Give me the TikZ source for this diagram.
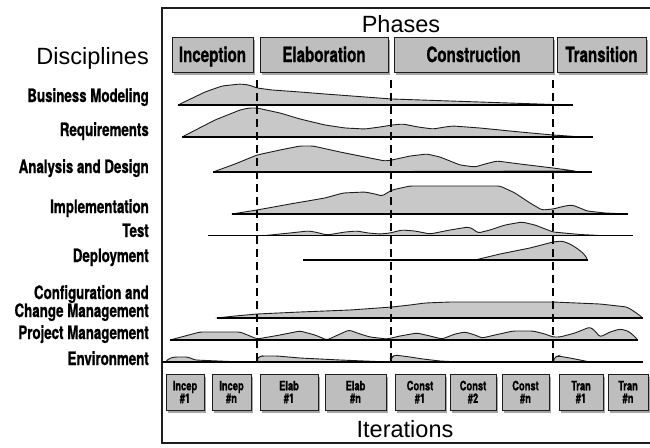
\documentclass[tikz,border=0pt]{standalone}
\usepackage{fontspec}
\setmainfont{Liberation Sans}
\newfontfamily\condfont[FakeStretch=0.72, FakeBold=0.8]{TeX Gyre Heros}
\usetikzlibrary{shadows}

\definecolor{humpgray}{RGB}{200,200,200}
\definecolor{boxgray}{RGB}{190,190,190}
\definecolor{inkdark}{RGB}{30,30,30}

\tikzset{
  framestyle/.style={draw=inkdark, line width=1.2pt},
  phasebox/.style={draw=inkdark, line width=0.9pt, fill=boxgray, inner sep=0pt,
    minimum height=35pt, text height=15pt, text depth=0pt,
    font=\condfont\bfseries\fontsize{21}{24}\selectfont,
    drop shadow={shadow xshift=2pt, shadow yshift=-2.5pt, fill=black, opacity=0.35}},
  iterbox/.style={draw=inkdark, line width=0.9pt, fill=boxgray, inner sep=0pt,
    minimum height=36pt, align=center,
    font=\condfont\bfseries\fontsize{13}{12.5}\selectfont,
    drop shadow={shadow xshift=2pt, shadow yshift=-2.5pt, fill=black, opacity=0.35}},
  disc/.style={anchor=base east, inner sep=0pt,
    font=\condfont\bfseries\fontsize{18.5}{18}\selectfont},
  heading/.style={anchor=base, inner sep=0pt, font=\fontsize{23.5}{26}\selectfont},
  hump/.style={fill=humpgray, draw=inkdark, line width=0.9pt, rounded corners=2.5pt},
  humpbase/.style={draw=black, line width=1.3pt},
  milestone/.style={draw=black, line width=1.1pt, dash pattern=on 8pt off 5pt},
}

\begin{document}
\begin{tikzpicture}[x=1pt, y=-1pt]
\useasboundingbox (0,0) rectangle (650,447);
\fill[white] (0,0) rectangle (650,447);

% outer frame
\draw[framestyle] (650,8) -- (162,8) -- (162,443) -- (650,443);

% headings
\node[heading] (phases) at (401,32) {Phases};
\node[heading, anchor=base east] (disciplines) at (149,64) {Disciplines};
\node[heading] (iterations) at (405,437) {Iterations};

% phase boxes
\node[phasebox, minimum width=81pt]  (inception)    at (212.5,54.5) {Inception};
\node[phasebox, minimum width=128pt] (elaboration)  at (324,54.5)   {Elaboration};
\node[phasebox, minimum width=159pt] (construction) at (473.5,54.5) {Construction};
\node[phasebox, minimum width=89pt]  (transition)   at (601.5,54.5) {Transition};

% discipline labels
\node[disc] (lbm)   at (149,102) {Business Modeling};
\node[disc] (lreq)  at (149,136) {Requirements};
\node[disc] (lad)   at (149,173) {Analysis and Design};
\node[disc] (limp)  at (149,213) {Implementation};
\node[disc] (ltest) at (149,237) {Test};
\node[disc] (ldep)  at (149,262) {Deployment};
\node[disc] (lccma) at (149,299) {Configuration and};
\node[disc] (lccmb) at (149,317) {Change Management};
\node[disc] (lpm)   at (149,339) {Project Management};
\node[disc] (lenv)  at (149,365) {Environment};

% effort profiles
% Business Modeling
\draw[hump] (178,105) -- (205,92) -- (222,86) -- (240,84) -- (249,85) -- (257,88) -- (272,90)
  -- (300,92) -- (325,94) -- (392,99) -- (450,101) -- (553,104.5) -- cycle;
\draw[humpbase] (178,105) -- (573,105);

% Requirements
\draw[hump] (182,137) -- (215,120) -- (240,110) -- (249,108) -- (257,108) -- (280,113)
  -- (300,119) -- (325,125) -- (345,128) -- (365,129) -- (380,127) -- (392,125) -- (403,124)
  -- (418,127) -- (433,129) -- (445,127) -- (453,126) -- (480,128) -- (520,132) -- (553,135)
  -- (575,136.5) -- cycle;
\draw[humpbase] (182,137) -- (593,137);

% Analysis and Design
\draw[hump] (213,172) -- (235,164) -- (257,155) -- (280,150) -- (300,146) -- (313,146)
  -- (340,152) -- (370,158) -- (385,161) -- (392,160) -- (410,156) -- (427,154) -- (440,157)
  -- (460,165) -- (475,167) -- (485,164) -- (497,161) -- (520,164) -- (553,168) -- (575,171)
  -- cycle;
\draw[humpbase] (213,172) -- (592,172);

% Implementation
\draw[hump] (232,214) -- (257,210) -- (290,204) -- (325,198) -- (343,193) -- (365,192)
  -- (375,194) -- (382,196) -- (392,190) -- (410,186) -- (500,186) -- (515,193) -- (530,203)
  -- (542,210) -- (553,209) -- (565,206) -- (572,205) -- (580,208) -- (587,211) -- (605,213)
  -- (628,214) -- cycle;
\draw[humpbase] (232,214) -- (628,214);

% Test
\draw[hump] (265,235.5) -- (290,233) -- (308,231) -- (315,232) -- (327,235) -- (345,232)
  -- (357,231) -- (368,233) -- (380,234) -- (390,233) -- (402,230) -- (415,231) -- (430,234)
  -- (450,230) -- (468,227) -- (473,229) -- (478,233) -- (490,230) -- (505,225) -- (522,222)
  -- (535,225) -- (553,232) -- (580,234.5) -- (600,235.5) -- cycle;
\draw[humpbase] (208,235.5) -- (633,235.5);

% Deployment
\draw[hump] (475,260) -- (500,254) -- (530,248) -- (553,242) -- (562,241) -- (570,244)
  -- (578,249) -- (584,254) -- (588,260) -- cycle;
\draw[humpbase] (303,260) -- (588,260);

% Configuration and Change Management
\draw[hump] (217,318) -- (235,316) -- (257,314) -- (300,312) -- (350,310) -- (392,307)
  -- (410,305) -- (425,303) -- (450,302) -- (553,302) -- (600,304) -- (627,307) -- (635,312)
  -- (643,318) -- cycle;
\draw[humpbase] (217,318) -- (643,318);

% Project Management
\draw[hump] (170,340) -- (200,332) -- (240,332) -- (250,336) -- (257,339) -- (280,335)
  -- (300,331) -- (315,335) -- (327,340) -- (340,334) -- (349,330) -- (360,334) -- (370,337)
  -- (387,339) -- (400,336) -- (417,333) -- (430,336) -- (442,339) -- (455,334) -- (465,332)
  -- (475,335) -- (482,338) -- (495,335) -- (513,331) -- (533,331) -- (545,334) -- (553,337)
  -- (560,337) -- (575,333) -- (590,327) -- (595,331) -- (600,337) -- (610,332) -- (620,329)
  -- (628,331) -- (633,335) -- (638,340) -- cycle;
\draw[humpbase] (170,340) -- (638,340);

% Environment
\draw[hump] (165,362) -- (170,358) -- (175,357) -- (188,357) -- (195,360) -- (230,361.5)
  -- (256,362) -- cycle;
\draw[hump] (257,362) -- (258,357) -- (262,356) -- (277,356) -- (300,358) -- (340,360)
  -- (389,362) -- cycle;
\draw[hump] (390,362) -- (392,357) -- (395,355) -- (410,357) -- (423,359) -- (440,361)
  -- (460,362) -- cycle;
\draw[hump] (553,362) -- (555,357) -- (558,356) -- (570,358) -- (590,362) -- cycle;
\draw[humpbase] (163,362) -- (643,362);

% phase boundaries
\coordinate (m1top) at (257,80);  \coordinate (m1bot) at (257,362);
\coordinate (m2top) at (391,80);  \coordinate (m2bot) at (391,362);
\coordinate (m3top) at (553,80);  \coordinate (m3bot) at (553,362);
\draw[milestone] (m1top) -- (m1bot);
\draw[milestone] (m2top) -- (m2bot);
\draw[milestone] (m3top) -- (m3bot);

% iteration boxes
\node[iterbox, minimum width=38pt] (i1) at (185,392)   {Incep\\\#1};
\node[iterbox, minimum width=39pt] (i2) at (231.5,392) {Incep\\\#n};
\node[iterbox, minimum width=58pt] (e1) at (289,392)   {Elab\\\#1};
\node[iterbox, minimum width=61pt] (e2) at (355.5,392) {Elab\\\#n};
\node[iterbox, minimum width=50pt] (c1) at (420,392)   {Const\\\#1};
\node[iterbox, minimum width=46pt] (c2) at (473,392)   {Const\\\#2};
\node[iterbox, minimum width=47pt] (c3) at (525.5,392) {Const\\\#n};
\node[iterbox, minimum width=44pt] (t1) at (581,392)   {Tran\\\#1};
\node[iterbox, minimum width=40pt] (t2) at (628,392)   {Tran\\\#n};
\end{tikzpicture}
\end{document}
